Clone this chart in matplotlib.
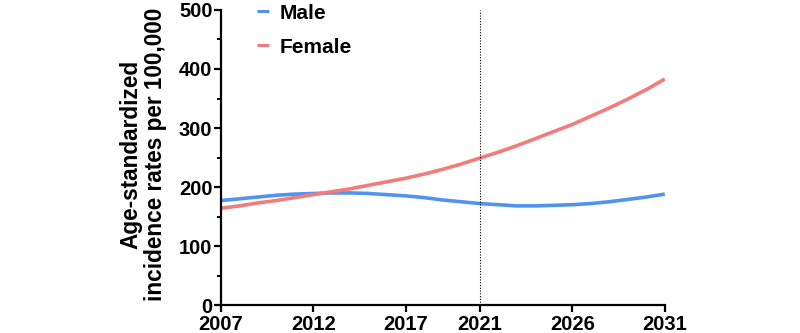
import matplotlib
matplotlib.use("Agg")
import matplotlib.pyplot as plt

plt.rcParams['font.family'] = ['Liberation Sans', 'DejaVu Sans']
plt.rcParams['font.weight'] = 'bold'

years = list(range(2007, 2032))
male = [177, 180, 183, 186, 188, 189, 190, 190, 189, 187, 185, 182, 178, 175, 172,
        170, 168, 168, 169, 170, 172, 175, 179, 183, 188]
female = [164, 168, 173, 177, 182, 187, 192, 197, 203, 209, 215, 222, 230, 239, 249,
          259, 270, 282, 294, 306, 320, 334, 349, 365, 383]
xticks = [2007, 2012, 2017, 2021, 2026, 2031]
yticks = [0, 100, 200, 300, 400, 500]
divider_year = 2021

fig = plt.figure(figsize=(8, 3.33), dpi=100)
ax = fig.add_axes([0.276, 0.084, 0.555, 0.886])

ax.plot(years, male, color='#4F94EF', lw=2.6, label='Male', solid_capstyle='butt')
ax.plot(years, female, color='#F27C7C', lw=2.6, label='Female', solid_capstyle='butt')
ax.axvline(divider_year, color='black', lw=0.8, ls=(0, (1, 1.5)))

ax.set_xlim(2007, 2031)
ax.set_ylim(0, 500)
ax.set_xticks(xticks)
ax.set_yticks(yticks)
ax.set_yticks([50, 150, 250, 350, 450], minor=True)
for s in ['top', 'right']:
    ax.spines[s].set_visible(False)
for s in ['left', 'bottom']:
    ax.spines[s].set_linewidth(1.6)
ax.tick_params(axis='both', which='major', length=5, width=1.6, labelsize=14.5, pad=1)
ax.tick_params(axis='x', which='major', pad=2)
ax.tick_params(axis='y', which='minor', length=3, width=1.4)
for lab in ax.get_xticklabels() + ax.get_yticklabels():
    lab.set_fontweight('bold')

ax.set_ylabel('Age-standardized\nincidence rates per 100,000', fontsize=16.3,
              fontweight='bold', linespacing=1.05)
ax.yaxis.set_label_coords(-0.122, 0.51)

leg = ax.legend(loc='upper left', bbox_to_anchor=(0.04, 1.085), frameon=False,
                handlelength=0.55, handletextpad=0.5, labelspacing=0.72,
                prop={'size': 15, 'weight': 'bold'})
for h in leg.get_lines():
    h.set_linewidth(2.2)

fig.savefig('out.png', dpi=100)
